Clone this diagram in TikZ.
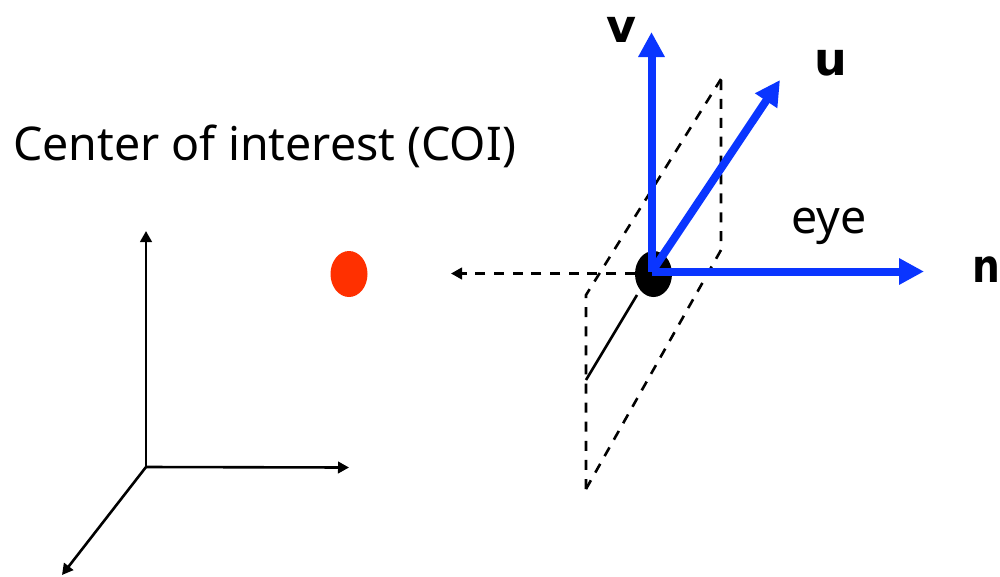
\documentclass[tikz,border=0pt]{standalone}
\usepackage{fontspec}
\setmainfont{Noto Sans}
\newfontfamily\boldlab{DejaVu Sans Bold}
\usetikzlibrary{shapes.geometric,arrows.meta}
\definecolor{axisblue}{HTML}{0A35FF}
\definecolor{coired}{HTML}{FF3000}
\tikzset{
  thinaxis/.style={line width=2.6pt,black,-{Triangle[length=11pt,width=11.5pt]}},
  bluearrow/.style={line width=8pt,axisblue,-{Triangle[length=25pt,width=25pt]}},
  planedash/.style={line width=2.6pt,black,dash pattern=on 10pt off 8.7pt},
  planesolid/.style={line width=2.6pt,black},
  dot/.style={ellipse,draw=none,minimum width=37pt,minimum height=46pt,inner sep=0pt},
  lab/.style={font=\fontsize{46.5pt}{46.5pt}\selectfont,anchor=base west,inner sep=0pt,text=black},
  boldtxt/.style={font=\boldlab\fontsize{46pt}{46pt}\selectfont,anchor=base,inner sep=0pt,text=black}
}
\begin{document}
\begin{tikzpicture}[x=1pt,y=-1pt]
\useasboundingbox (0,0) rectangle (1000,576);
% reference axes
\coordinate (o) at (146,467);
\coordinate (ox) at (349,467.5);
\coordinate (oy) at (146,231);
\coordinate (oz) at (62,575);
\draw[thinaxis] (o) -- (oy);
\draw[thinaxis] (o) -- (ox);
\draw[thinaxis] (o) -- (oz);
\node[dot,fill=coired] (coi) at (349,274) {};
% view plane
\coordinate (pa) at (721,79);
\coordinate (pb) at (721,250);
\coordinate (pc) at (586,489);
\coordinate (pd) at (586,295);
\coordinate (ps) at (586,380);
\coordinate (pe) at (637,295);
\draw[planedash,dash pattern=on 10pt off 8.89pt] (pc) -- (pb) -- (pa);
\draw[planedash,dash pattern=on 10pt off 9.09pt] (pc) -- (pd) -- (pa);
\draw[planesolid] (ps) -- (pe);
% eye
\node[dot,fill=black] (eye) at (653.5,274) {};
\coordinate (back) at (451,273.5);
\draw[planedash,-{Triangle[length=11pt,width=11.5pt]}] (eye.west |- back) -- (back);
\coordinate (e) at (652,271.5);
\coordinate (ev) at (651.5,32);
\coordinate (eu) at (780,80);
\coordinate (en) at (924,271.5);
\draw[bluearrow] (e) -- (en);
\draw[bluearrow] (651.5,272) -- (ev);
\draw[bluearrow] (e) -- (eu);
% labels
\node[lab] (title) at (13,160) {Center of interest (COI)};
\node[lab] (eyelab) at (791,233) {eye};
\node[boldtxt] (vlab) at (621,42) {v};
\node[boldtxt] (ulab) at (830.5,75) {u};
\node[boldtxt,anchor=base west] (nlab) at (972.5,282) {\scalebox{0.85}[1]{n}};
\end{tikzpicture}
\end{document}
